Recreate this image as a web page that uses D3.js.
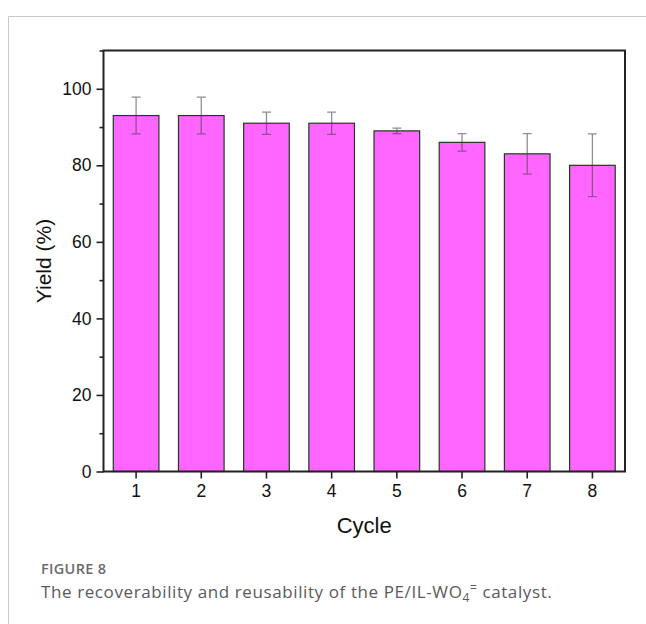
<!DOCTYPE html>
<html>
<head>
<meta charset="utf-8">
<script src="https://cdn.jsdelivr.net/npm/d3@7"></script>
<style>
  body { margin: 0; background: #fff; }
  svg { display: block; }
</style>
</head>
<body>
<div id="container"></div>
<script>
/* CONSTANTS AND GLOBALS */
const width = 646,
  height = 624
const plot = { left: 103.5, right: 625, top: 50.5, bottom: 471.5 }

/* DATA */
const cycles = ["1", "2", "3", "4", "5", "6", "7", "8"]
const yieldValues = [93, 93, 91, 91, 89, 86, 83, 80]
const yieldErrors = [4.8, 4.8, 2.9, 2.9, 0.7, 2.3, 5.3, 8.2]
const yTicks = [0, 20, 40, 60, 80, 100]
const yMinorTicks = [10, 30, 50, 70, 90, 110]

const data = cycles.map((c, i) => ({ cycle: c, value: yieldValues[i], err: yieldErrors[i] }))

// CREATE SVG ELEMENT
const svg = d3.select("#container")
  .append("svg")
  .attr("width", width)
  .attr("height", height)

// card border
svg.append("path")
  .attr("d", `M8.5,${height} V16.5 H${width}`)
  .attr("fill", "none")
  .attr("stroke", "#c8c8c8")
  .attr("stroke-width", 1)

// SCALES
const xScale = d3.scaleBand()
  .domain(cycles)
  .range([plot.left, plot.right])
  .paddingInner(0.3)
  .paddingOuter(0.15)

const yScale = d3.scaleLinear()
  .domain([0, 110])
  .range([plot.bottom, plot.top])

// DRAW BARS
svg.selectAll(".bar")
  .data(data)
  .join("rect")
  .attr("class", "bar")
  .attr("x", d => xScale(d.cycle))
  .attr("y", d => yScale(d.value))
  .attr("width", xScale.bandwidth())
  .attr("height", d => yScale(0) - yScale(d.value))
  .attr("fill", "#ff66ff")
  .attr("stroke", "#1f3a22")
  .attr("stroke-width", 1.2)

// ERROR BARS
const errG = svg.append("g")
  .attr("stroke", "#444")
  .attr("stroke-opacity", 0.6)
  .attr("stroke-width", 1.3)
  .attr("fill", "none")

errG.selectAll(".err")
  .data(data)
  .join("path")
  .attr("class", "err")
  .attr("d", d => {
    const cx = xScale(d.cycle) + xScale.bandwidth() / 2
    const y1 = yScale(d.value + d.err), y0 = yScale(d.value - d.err)
    return `M${cx},${y1}V${y0}M${cx - 4.5},${y1}H${cx + 4.5}M${cx - 4.5},${y0}H${cx + 4.5}`
  })

// FRAME
svg.append("rect")
  .attr("x", plot.left)
  .attr("y", plot.top)
  .attr("width", plot.right - plot.left)
  .attr("height", plot.bottom - plot.top)
  .attr("fill", "none")
  .attr("stroke", "#222")
  .attr("stroke-width", 2)

// BUILD AND CALL AXES
// X axis
const xAxis = d3.axisBottom(xScale)
  .tickSize(7)
  .tickPadding(6)

svg.append("g")
  .attr("class", "xAxis")
  .attr("transform", `translate(0, ${plot.bottom})`)
  .call(xAxis)

// Y axis
const yAxis = d3.axisLeft(yScale)
  .tickValues(yTicks)
  .tickSize(7)
  .tickPadding(5)

svg.append("g")
  .attr("class", "yAxis")
  .attr("transform", `translate(${plot.left}, 0)`)
  .call(yAxis)

const yMinor = d3.axisLeft(yScale)
  .tickValues(yMinorTicks)
  .tickSize(4)
  .tickFormat("")

svg.append("g")
  .attr("class", "yMinor")
  .attr("transform", `translate(${plot.left}, 0)`)
  .call(yMinor)

svg.selectAll(".xAxis, .yAxis, .yMinor")
  .attr("font-family", "Liberation Sans, Arial, sans-serif")
  .attr("font-size", 17.5)
  .call(g => g.select(".domain").remove())
  .call(g => g.selectAll(".tick line").attr("stroke", "#222").attr("stroke-width", 1.6))
  .call(g => g.selectAll(".tick text").attr("fill", "#111"))

// axis labels
svg.append("text")
  .attr("text-anchor", "middle")
  .attr("x", (plot.left + plot.right) / 2)
  .attr("y", 533)
  .attr("fill", "#111")
  .attr("font-family", "Liberation Sans, Arial, sans-serif")
  .attr("font-size", 22)
  .text("Cycle")

svg.append("text")
  .attr("text-anchor", "middle")
  .attr("transform", `translate(51, ${(plot.top + plot.bottom) / 2}) rotate(-90)`)
  .attr("fill", "#111")
  .attr("font-family", "Liberation Sans, Arial, sans-serif")
  .attr("font-size", 21)
  .text("Yield (%)")

// caption
svg.append("text")
  .attr("x", 41)
  .attr("y", 574)
  .attr("fill", "#6b6b6b")
  .attr("font-family", "Open Sans, sans-serif")
  .attr("font-weight", 600)
  .attr("font-size", 14.5)
  .attr("letter-spacing", 0.3)
  .text("FIGURE 8")

const cap = svg.append("text")
  .attr("x", 41)
  .attr("y", 598)
  .attr("fill", "#5a5a5a")
  .attr("font-family", "Open Sans, sans-serif")
  .attr("font-size", 17)
  .attr("letter-spacing", 0.6)
cap.append("tspan").text("The recoverability and reusability of the PE/IL-WO")
cap.append("tspan").attr("dy", 4).attr("font-size", 12).text("4")
cap.append("tspan").attr("dy", -10).attr("font-size", 12).text("=")
cap.append("tspan").attr("dy", 6).text(" catalyst.")
</script>
</body>
</html>
